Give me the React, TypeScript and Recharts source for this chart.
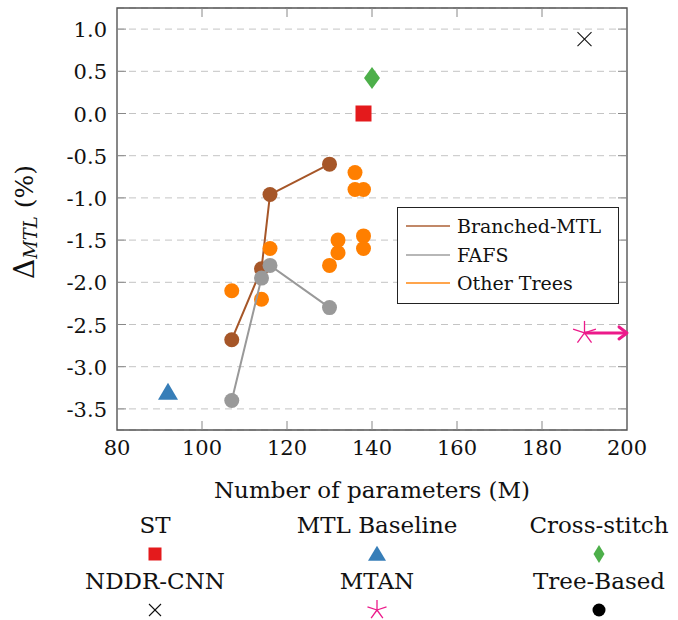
import React from 'react'
import {
  ScatterChart,
  Scatter,
  XAxis,
  YAxis,
  CartesianGrid,
  Legend,
  ReferenceArea,
} from 'recharts'

// ── Data ──────────────────────────────────────────────────────────────────────

const X_TICKS = [80, 100, 120, 140, 160, 180, 200]
const Y_TICKS = [-3.5, -3.0, -2.5, -2.0, -1.5, -1.0, -0.5, 0.0, 0.5, 1.0]
const X_DOMAIN = [80, 200]
const Y_DOMAIN = [-3.75, 1.25]

const branched = [
  { x: 107, y: -2.68 },
  { x: 114, y: -1.84 },
  { x: 116, y: -0.96 },
  { x: 130, y: -0.6 },
]

const fafs = [
  { x: 107, y: -3.4 },
  { x: 114, y: -1.95 },
  { x: 116, y: -1.8 },
  { x: 130, y: -2.3 },
]

const otherTrees = [
  { x: 107, y: -2.1 },
  { x: 114, y: -2.2 },
  { x: 116, y: -1.6 },
  { x: 130, y: -1.8 },
  { x: 132, y: -1.65 },
  { x: 132, y: -1.5 },
  { x: 136, y: -0.7 },
  { x: 136, y: -0.9 },
  { x: 138, y: -0.9 },
  { x: 138, y: -1.45 },
  { x: 138, y: -1.6 },
]

const st = [{ x: 138, y: 0.0 }]
const mtlBaseline = [{ x: 92, y: -3.3 }]
const crossStitch = [{ x: 140, y: 0.42 }]
const nddr = [{ x: 190, y: 0.88 }]
const mtan = [{ x: 190, y: -2.6 }]
const mtanArrow = [{ x: 190, y: -2.6 }, { x: 200, y: -2.6 }]

const LEGEND_ORDER = ['Branched-MTL', 'FAFS', 'Other Trees']

// ── Palette / layout ──────────────────────────────────────────────────────────

const RED = '#e41a1c'
const BLUE = '#377eb8'
const GREEN = '#4daf4a'
const ORANGE = '#ff7f00'
const BROWN = '#a65628'
const GRAY = '#999999'
const PINK = '#ec1a8a'

const FONT = "'DejaVu Serif', serif"
const W = 678
const H = 620
const MARGIN = { top: 8, right: 51, bottom: 150, left: 57 }
const PLOT_TOP = MARGIN.top
const PLOT_RIGHT = W - MARGIN.right
const PLOT_LEFT = MARGIN.left + 60
const PLOT_BOTTOM = H - MARGIN.bottom - 40

// ── Marker shapes ─────────────────────────────────────────────────────────────

const dot = (r: number) => (p: any) => <circle cx={p.cx} cy={p.cy} r={r} fill={p.fill} />

const square = (s: number) => (p: any) => (
  <rect x={p.cx - s / 2} y={p.cy - s / 2} width={s} height={s} fill={p.fill} />
)

const triangle = (w: number, h: number) => (p: any) => (
  <polygon
    points={`${p.cx},${p.cy - h * 0.55} ${p.cx - w / 2},${p.cy + h * 0.45} ${p.cx + w / 2},${p.cy + h * 0.45}`}
    fill={p.fill}
  />
)

const diamond = (w: number, h: number) => (p: any) => (
  <polygon
    points={`${p.cx},${p.cy - h / 2} ${p.cx + w / 2},${p.cy} ${p.cx},${p.cy + h / 2} ${p.cx - w / 2},${p.cy}`}
    fill={p.fill}
  />
)

const cross = (s: number) => (p: any) => (
  <g stroke="#111" strokeWidth={1.1}>
    <line x1={p.cx - s} y1={p.cy - s} x2={p.cx + s} y2={p.cy + s} />
    <line x1={p.cx - s} y1={p.cy + s} x2={p.cx + s} y2={p.cy - s} />
  </g>
)

const star = (r: number) => (p: any) => (
  <g stroke={PINK} strokeWidth={1.3}>
    {[90, 162, 234, 306, 18].map((a) => (
      <line
        key={a}
        x1={p.cx}
        y1={p.cy}
        x2={p.cx + r * Math.cos((a * Math.PI) / 180)}
        y2={p.cy - r * Math.sin((a * Math.PI) / 180)}
      />
    ))}
  </g>
)

const arrowHead = (p: any) =>
  p.payload.x === X_DOMAIN[1] ? (
    <polyline
      points={`${p.cx - 8},${p.cy - 6} ${p.cx},${p.cy} ${p.cx - 8},${p.cy + 6}`}
      fill="none"
      stroke={PINK}
      strokeWidth={3}
      strokeLinecap="round"
      strokeLinejoin="round"
    />
  ) : (
    <g />
  )

// ── Axis ticks (inward, on all four sides) ────────────────────────────────────

function XTick({ x, payload }: any) {
  const inner = payload.value > X_DOMAIN[0] && payload.value < X_DOMAIN[1]
  return (
    <g>
      {inner && (
        <g stroke="#888" strokeWidth={1}>
          <line x1={x} x2={x} y1={PLOT_BOTTOM} y2={PLOT_BOTTOM - 9} />
          <line x1={x} x2={x} y1={PLOT_TOP} y2={PLOT_TOP + 9} />
        </g>
      )}
      <text x={x} y={PLOT_BOTTOM + 25} textAnchor="middle" fontSize={21} fontFamily={FONT} fill="#111">
        {payload.value}
      </text>
    </g>
  )
}

function YTick({ y, payload }: any) {
  return (
    <g>
      <g stroke="#888" strokeWidth={1}>
        <line x1={PLOT_LEFT} x2={PLOT_LEFT + 9} y1={y} y2={y} />
        <line x1={PLOT_RIGHT} x2={PLOT_RIGHT - 9} y1={y} y2={y} />
      </g>
      <text x={PLOT_LEFT - 10} y={y + 8} textAnchor="end" fontSize={21} fontFamily={FONT} fill="#111">
        {payload.value.toFixed(1)}
      </text>
    </g>
  )
}

function YTitle({ viewBox }: any) {
  const cx = viewBox.x - 33
  const cy = viewBox.y + viewBox.height / 2 + 3
  return (
    <text
      x={cx}
      y={cy}
      transform={`rotate(-90, ${cx}, ${cy})`}
      textAnchor="middle"
      dominantBaseline="central"
      fontFamily={FONT}
      fill="#111"
    >
      <tspan fontSize={28}>Δ</tspan>
      <tspan fontSize={18} fontStyle="italic" dy={6}>MTL</tspan>
      <tspan fontSize={25} dy={-6}> (%)</tspan>
    </text>
  )
}

function XTitle({ viewBox }: any) {
  return (
    <text
      x={viewBox.x + viewBox.width / 2}
      y={viewBox.y + 60}
      textAnchor="middle"
      dominantBaseline="central"
      fontSize={23}
      fontFamily={FONT}
      fill="#111"
    >
      Number of parameters (M)
    </text>
  )
}

// ── Legends ───────────────────────────────────────────────────────────────────

function LineLegend({ payload }: any) {
  const items = [...(payload || [])]
    .filter((p: any) => LEGEND_ORDER.includes(p.value))
    .sort((a: any, b: any) => LEGEND_ORDER.indexOf(a.value) - LEGEND_ORDER.indexOf(b.value))
  return (
    <div
      style={{
        border: '1.3px solid #222',
        background: '#fff',
        padding: '4px 8px 5px 8px',
        fontFamily: FONT,
        fontSize: 19,
        color: '#111',
        boxSizing: 'border-box',
      }}
    >
      {items.map((it: any) => (
        <div key={it.value} style={{ display: 'flex', alignItems: 'center', height: 28.5 }}>
          <svg width={44} height={4} style={{ marginRight: 7 }}>
            <line x1={0} x2={44} y1={2} y2={2} stroke={it.color} strokeOpacity={0.7} strokeWidth={2} />
          </svg>
          <span>{it.value}</span>
        </div>
      ))}
    </div>
  )
}

const MARKER_LEGEND = [
  { name: 'ST', shape: square(13), fill: RED },
  { name: 'MTL Baseline', shape: triangle(18, 15), fill: BLUE },
  { name: 'Cross-stitch', shape: diamond(11, 18), fill: GREEN },
  { name: 'NDDR-CNN', shape: cross(6), fill: '#111' },
  { name: 'MTAN', shape: star(10), fill: PINK },
  { name: 'Tree-Based', shape: dot(6.5), fill: '#000' },
]

function MarkerLegend() {
  return (
    <div style={{ position: 'absolute', left: 44, top: 507, width: 666 }}>
      {MARKER_LEGEND.map((m, i) => (
        <div
          key={m.name}
          style={{
            position: 'absolute',
            left: (i % 3) * 222,
            top: Math.floor(i / 3) * 56,
            width: 222,
            textAlign: 'center',
            fontFamily: FONT,
            fontSize: 23,
            color: '#111',
          }}
        >
          <div style={{ height: 36, lineHeight: '36px' }}>{m.name}</div>
          <svg width={24} height={22} style={{ display: 'block', margin: '0 auto' }}>
            {m.shape({ cx: 12, cy: 11, fill: m.fill, payload: {} })}
          </svg>
        </div>
      ))}
    </div>
  )
}

// ── Chart ─────────────────────────────────────────────────────────────────────

export default function App() {
  return (
    <div style={{ position: 'absolute', left: 0, top: 0, width: W, height: H, background: '#fff' }}>
      <ScatterChart width={W} height={H} margin={MARGIN}>
        <CartesianGrid vertical={false} strokeDasharray="7 5" stroke="#c4c4c4" />
        <XAxis
          type="number"
          dataKey="x"
          domain={X_DOMAIN}
          ticks={X_TICKS}
          interval={0}
          height={40}
          axisLine={false}
          tickLine={false}
          tickSize={0}
          tick={<XTick />}
          label={{ content: (p: any) => <XTitle {...p} /> }}
        />
        <YAxis
          type="number"
          dataKey="y"
          domain={Y_DOMAIN}
          ticks={Y_TICKS}
          interval={0}
          width={60}
          axisLine={false}
          tickLine={false}
          tickSize={0}
          tick={<YTick />}
          label={{ content: (p: any) => <YTitle {...p} /> }}
        />
        <ReferenceArea
          x1={X_DOMAIN[0]}
          x2={X_DOMAIN[1]}
          y1={Y_DOMAIN[0]}
          y2={Y_DOMAIN[1]}
          fill="none"
          fillOpacity={0}
          stroke="#555"
          strokeWidth={1.4}
          ifOverflow="visible"
        />
        <Legend
          layout="horizontal"
          verticalAlign="middle"
          align="center"
          content={<LineLegend />}
          wrapperStyle={{ position: 'absolute', left: 397, top: 207, width: 222 }}
        />
        <Scatter
          name="Branched-MTL"
          data={branched}
          fill={BROWN}
          line={{ stroke: BROWN, strokeWidth: 2 }}
          shape={dot(7.5)}
          isAnimationActive={false}
        />
        <Scatter name="Other Trees" data={otherTrees} fill={ORANGE} shape={dot(7.5)} isAnimationActive={false} />
        <Scatter
          name="FAFS"
          data={fafs}
          fill={GRAY}
          line={{ stroke: GRAY, strokeWidth: 2 }}
          shape={dot(7.5)}
          isAnimationActive={false}
        />
        <Scatter name="ST" data={st} fill={RED} shape={square(16)} legendType="none" isAnimationActive={false} />
        <Scatter
          name="MTL Baseline"
          data={mtlBaseline}
          fill={BLUE}
          shape={triangle(20, 17)}
          legendType="none"
          isAnimationActive={false}
        />
        <Scatter
          name="Cross-stitch"
          data={crossStitch}
          fill={GREEN}
          shape={diamond(16, 22)}
          legendType="none"
          isAnimationActive={false}
        />
        <Scatter name="NDDR-CNN" data={nddr} fill="#111" shape={cross(7)} legendType="none" isAnimationActive={false} />
        <Scatter
          name="MTAN range"
          data={mtanArrow}
          fill={PINK}
          line={{ stroke: PINK, strokeWidth: 3 }}
          shape={arrowHead}
          legendType="none"
          isAnimationActive={false}
        />
        <Scatter name="MTAN" data={mtan} fill={PINK} shape={star(12)} legendType="none" isAnimationActive={false} />
      </ScatterChart>
      <MarkerLegend />
    </div>
  )
}
